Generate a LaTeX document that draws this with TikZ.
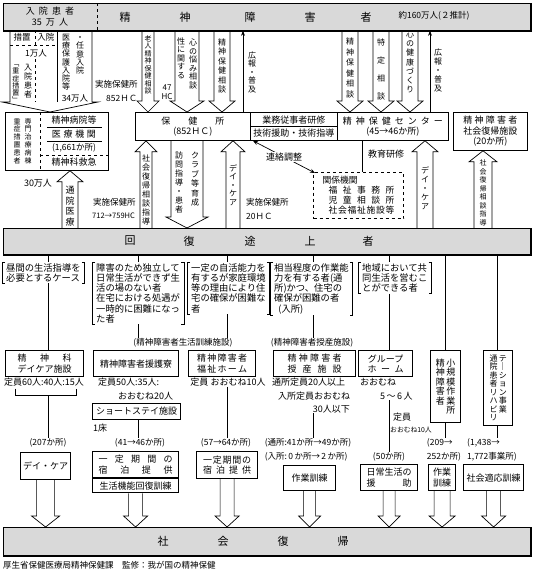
\documentclass[tikz,border=0pt]{standalone}
\usepackage{fontspec}
\setmainfont{Noto Sans CJK JP}
\usetikzlibrary{calc, arrows.meta, positioning}

\tikzstyle{bar} = [draw, line width=0.8pt, fill=black!15, inner sep=0pt, anchor=north west]
\tikzstyle{box} = [draw, line width=0.8pt, fill=white, align=center, inner sep=1.5pt, anchor=north west]
\tikzstyle{facility} = [draw, line width=1.4pt, fill=white, align=center, inner sep=1.5pt, anchor=north west]
\tikzstyle{txt} = [inner sep=0pt, align=center]
\tikzstyle{vtxt} = [inner sep=0pt, font=\fontsize{8}{9}\selectfont]
\tikzstyle{cond} = [inner xsep=4pt, inner ysep=1pt, align=left, anchor=north west, font=\fontsize{9.3}{10.3}\selectfont]
\tikzstyle{cnt} = [inner sep=0.5pt, align=left, font=\fontsize{8.5}{13.5}\selectfont]
\tikzstyle{hollow} = [draw, line width=0.7pt, line join=miter]
\tikzstyle{conn} = [line width=0.7pt]
\tikzstyle{arrow} = [conn, -{Stealth[length=5pt, width=4pt]}]

\makeatletter
\newdimen\vtpitch
\def\vt@#1{\ifx\@nil#1\else\hbox to 1em{\hss\vrule height \dimexpr .5\vtpitch+.38em\relax depth \dimexpr .5\vtpitch-.38em\relax width 0pt\relax\smash{#1}\hss}\expandafter\vt@\fi}
\newcommand\vt[2][10pt]{\vtpitch=#1\relax\vtop{\offinterlineskip\vt@#2\@nil}}
\def\spread@#1{#1\spread@@}
\def\spread@@#1{\ifx\@nil#1\else\hfill#1\expandafter\spread@@\fi}
\newcommand\spread[2]{\makebox[#1]{\spread@#2\@nil}}
\makeatother

% hollow block arrow: from, tip, half body width
\newcommand\hollowarrow[3]{%
  \draw[hollow] let \p1=#1, \p2=#2, \n1={ifthenelse(\y2>\y1,1,-1)} in
    (\x1-#3,\y1) -- (\x1-#3,\y2-\n1*11) -- (\x1-#3-5,\y2-\n1*11) -- (\x1,\y2)
    -- (\x1+#3+5,\y2-\n1*11) -- (\x1+#3,\y2-\n1*11) -- (\x1+#3,\y1);}

\begin{document}
\begin{tikzpicture}[x=1pt, y=-1pt, font=\fontsize{9}{10.5}\selectfont]
\useasboundingbox (0,0) rectangle (541,571);

% Bars
\node[bar, minimum width=527, minimum height=27] (topbar) at (3,3) {};
\draw[line width=1.6pt] (topbar.north east) -- (topbar.south east) -- (topbar.south west);
\node[bar, minimum width=527, minimum height=26] (kaifuku) at (3,228) {};
\draw[line width=1.6pt] (kaifuku.north east) -- (kaifuku.south east) -- (kaifuku.south west);
\node[bar, minimum width=527, minimum height=28] (fukki) at (3,527) {};
\draw[line width=1.6pt] (fukki.north east) -- (fukki.south east) -- (fukki.south west);

\draw[dashed] (97,3) -- (97,30);
\node[txt] (inpat) at (50,16.5) {入\ \ 院\ \ 患\ \ 者\\35\ \ 万\ \ 人};
\foreach \c/\xx [count=\i] in {精/125, 神/185, 障/250, 害/310, 者/366}
  \node[txt, font=\fontsize{11}{12}\selectfont] (sei\i) at (\xx,17) {\c};
\node[txt, font=\fontsize{8.5}{10}\selectfont] (total) at (434,16) {約160万人(２推計)};
\foreach \c/\xx [count=\i] in {回/130, 復/189, 途/250, 上/310, 者/368}
  \node[txt, font=\fontsize{11}{12}\selectfont] (kai\i) at (\xx,241) {\c};
\foreach \c/\xx [count=\i] in {社/163, 会/223, 復/283, 帰/343}
  \node[txt, font=\fontsize{11}{12}\selectfont] (sha\i) at (\xx,541) {\c};

% Column coordinates
\coordinate (c1) at (48,0);
\coordinate (c2) at (138,0);
\coordinate (c3) at (227,0);
\coordinate (c4) at (313,0);
\coordinate (c5) at (389,0);
\coordinate (c6) at (445,0);
\coordinate (c7) at (497,0);

% Inpatients
\draw[hollow] (10,30) -- (10,102) -- (2,102) -- (50,112) -- (98,102) -- (92,102) -- (92,30);
\draw (57,30) -- (57,102);
\draw[dashed] (35,30) -- (35,45) (10,45) -- (57,45) (35,59) -- (35,102);
\node[txt, font=\fontsize{8.5}{9}\selectfont] (sochi) at (22,37) {措置};
\node[txt, font=\fontsize{8.5}{9}\selectfont] (nyuin) at (46,37) {入院};
\node[txt, font=\fontsize{8.5}{9}\selectfont] (ichiman) at (36,53) {1万人};
\node[vtxt, font=\fontsize{7}{8}\selectfont] (jusho) at (16,82) {\vt[7.3pt]{﹁重症措置﹂}};
\node[vtxt] (nyukan) at (28,81) {\vt[9pt]{入院患者}};
\node[vtxt] (iryo) at (66,62) {\vt[8.3pt]{医療保護入院等}};
\node[vtxt] (nini) at (80,54) {\vt[8.3pt]{・任意入院}};
\node[txt, font=\fontsize{8.5}{9}\selectfont] (sanju) at (75,98) {34万人};
\node[txt, anchor=west, font=\fontsize{8.5}{9}\selectfont] (jisshi1) at (95,84) {実施保健所};
\node[txt, anchor=west, font=\fontsize{8.5}{9}\selectfont] (hc1) at (106,98) {852ＨＣ};

% Agencies
\node[box, minimum width=103, minimum height=58] (byoin) at (5,112) {};
\draw[dashed] (40,112) -- (40,170);
\node[vtxt, font=\fontsize{7}{8}\selectfont] (jusho2) at (17,141) {\vt[7.8pt]{重症措置患者}};
\node[vtxt, font=\fontsize{7}{8}\selectfont] (senmon) at (28,141) {\vt[7.8pt]{専門治療病棟}};
\node[txt] (byoin1) at (74,120) {精神病院等};
\draw (47,127) -- (102,127);
\node[txt] (byoin2) at (74,134) {\spread{44pt}{医療機関}};
\draw (47,141) -- (102,141);
\node[txt, font=\fontsize{8.5}{9}\selectfont] (byoin3) at (74,148) {(1,661か所)};
\draw[dashed] (40,155) -- (108,155);
\node[txt] (byoin4) at (74,162.5) {精神科救急};

\node[box, minimum width=115, minimum height=28] (hoken) at (135,112) {保\hspace{18pt}健\hspace{18pt}所\\(852ＨＣ)};
\node[box, minimum width=87, minimum height=28] (kenshu) at (250,112) {業務従事者研修\\[2.5pt]技術援助・技術指導};
\draw[conn] (kenshu.west) -- (kenshu.east);
\node[box, minimum width=111, minimum height=28] (seiho) at (337,112) {\spread{100pt}{精神保健センター}\\(45→46か所)};
\node[box, minimum width=74, minimum height=38] (shakai) at (453,112) {\spread{54pt}{精神障害者}\\社会復帰施設\\(20か所)};

% Arrows from the top bar
\node[vtxt, font=\fontsize{7}{8}\selectfont] (rojin) at (148,65) {\vt[7.5pt]{老人精神保健相談}};
\hollowarrow{(topbar.south -| rojin)}{(hoken.north -| rojin)}{6}
\node[txt, font=\fontsize{8}{9}\selectfont] (hc47) at (167,92) {47\\HC};
\node[vtxt] (seini) at (181,58) {\vt[8.5pt]{性に関する}};
\node[vtxt] (nayami) at (193,64) {\vt[8.5pt]{心の悩み相談}};
\coordinate (nayamiA) at (187,0);
\hollowarrow{(topbar.south -| nayamiA)}{(hoken.north -| nayamiA)}{12}
\node[vtxt] (soudan1) at (222,66) {\vt[9.5pt]{精神保健相談}};
\hollowarrow{(topbar.south -| soudan1)}{(hoken.north -| soudan1)}{8}
\coordinate (koho1A) at (243,0);
\draw[arrow] (hoken.north -| koho1A) -- (topbar.south -| koho1A);
\node[vtxt] (koho1) at (252,72) {\vt[8.5pt]{広報・普及}};

\node[vtxt] (soudan2) at (350,68) {\vt[10.5pt]{精神保健相談}};
\hollowarrow{(topbar.south -| soudan2)}{(seiho.north -| soudan2)}{8}
\node[vtxt] (tokutei) at (381,69) {\vt[18pt]{特定相談}};
\hollowarrow{(topbar.south -| tokutei)}{(seiho.north -| tokutei)}{8}
\node[vtxt] (zukuri) at (410,62) {\vt[9.3pt]{心の健康づくり}};
\hollowarrow{(topbar.south -| zukuri)}{(seiho.north -| zukuri)}{8}
\coordinate (koho2A) at (430,0);
\draw[arrow] (seiho.north -| koho2A) -- (topbar.south -| koho2A);
\node[vtxt] (koho2) at (438,70) {\vt[9pt]{広報・普及}};

% Arrows to the recovering
\node[vtxt, font=\fontsize{9}{10}\selectfont] (tsuin) at (70,206) {\vt[10.5pt]{通院医療}};
\hollowarrow{(kaifuku.north -| tsuin)}{(byoin.south -| tsuin)}{8}
\node[txt] (sanjuman) at (38,183) {30万人};
\node[txt, anchor=west, font=\fontsize{8.5}{9}\selectfont] (jisshi2) at (93,202) {実施保健所};
\node[txt, anchor=west, font=\fontsize{7.5}{9}\selectfont] (hc2) at (92,216) {712→759HC};
\node[vtxt] (fukki1) at (146,190) {\vt[9pt]{社会復帰相談指導}};
\hollowarrow{(kaifuku.north -| fukki1)}{(hoken.south -| fukki1)}{6}
\node[vtxt] (homon) at (179,182) {\vt[9pt]{訪問指導・患者}};
\node[vtxt] (club) at (195,179) {\vt[9.5pt]{クラブ等育成}};
\coordinate (homonA) at (187,0);
\hollowarrow{(hoken.south -| homonA)}{(kaifuku.north -| homonA)}{16}
\node[vtxt] (daycare1) at (233,185) {\vt[8.5pt]{デイ・ケア}};
\hollowarrow{(kaifuku.north -| daycare1)}{(hoken.south -| daycare1)}{7}
\node[txt, anchor=west, font=\fontsize{8.5}{9}\selectfont] (jisshi3) at (246,202) {実施保健所};
\node[txt, anchor=west, font=\fontsize{8.5}{9}\selectfont] (hc3) at (246,216) {20ＨＣ};

\node[box, dashed, line width=1.1pt, minimum width=90, minimum height=46, align=left, font=\fontsize{8.8}{10}\selectfont] (kankei) at (313,172)
  {関係機関\\\hspace*{6pt}\spread{66pt}{福祉事務所}\\\hspace*{6pt}\spread{66pt}{児童相談所}\\\hspace*{6pt}\spread{66pt}{社会福祉施設等}};
\draw[conn, {Stealth[length=5pt, width=4pt]}-{Stealth[length=5pt, width=4pt]}] ([xshift=3pt]kenshu.south west) -- node[fill=white, inner sep=1pt] (renraku) {連絡調整} ([xshift=2pt, yshift=-1pt]kankei.north west);
\coordinate (kyoikuA) at (362,0);
\draw[conn] (seiho.south -| kyoikuA) -- (kankei.north -| kyoikuA);
\node[txt, anchor=west] (kyoiku) at (368,154) {教育研修};
\node[vtxt] (daycare2) at (425,188) {\vt[9pt]{デイ・ケア}};
\hollowarrow{(kaifuku.north -| daycare2)}{(seiho.south -| daycare2)}{8}
\node[vtxt, font=\fontsize{7}{8}\selectfont] (fukki2) at (483,193) {\vt[8.5pt]{社会復帰相談指導}};
\hollowarrow{(kaifuku.north -| fukki2)}{(shakai.south -| fukki2)}{9}

% Conditions
\node[cond] (live1) at (2,262) {昼間の生活指導を\\必要とするケース};
\node[cond] (live2) at (92,262) {障害のため独立して\\日常生活ができず生\\活の場のない者\\在宅における処遇が\\一時的に困難になっ\\た者};
\node[cond] (live3) at (187,262) {一定の自活能力を\\有するが家庭環境\\等の理由により住\\宅の確保が困難な\\者};
\node[cond] (live4) at (270,262) {相当程度の作業能\\力を有する者(通\\所)かつ、住宅の\\確保が困難の者\\\ \ (入所)};
\node[cond] (live5) at (358,262) {地域において共\\同生活を営むこ\\とができる者};
\foreach \n in {live1, live2, live3, live4, live5}
  \draw[conn] ([xshift=3pt]\n.north west) -- (\n.north west) -- (\n.south west) -- ([xshift=3pt]\n.south west)
    ([xshift=-3pt]\n.north east) -- (\n.north east) -- (\n.south east) -- ([xshift=-3pt]\n.south east);
\draw[conn] (kaifuku.south -| c1) -- (live1.north -| c1);
\draw[conn] (kaifuku.south -| c2) -- (live2.north -| c2);
\draw[conn] (kaifuku.south -| c3) -- (live3.north -| c3);
\draw[conn] (kaifuku.south -| c4) -- (live4.north -| c4);
\draw[conn] (kaifuku.south -| c5) -- (live5.north -| c5);

% Facilities
\node[txt, font=\fontsize{8.5}{9}\selectfont] (seikatsu) at (183,343) {(精神障害者生活訓練施設)};
\node[txt, font=\fontsize{8.5}{9}\selectfont] (jusanL) at (312,343) {(精神障害者授産施設)};
\draw[conn] (live2.south -| c2) -- (seikatsu.north -| c2);
\draw[conn] (live3.south -| c3) -- (seikatsu.north -| c3);
\draw[conn] (live4.south -| c4) -- (jusanL.north -| c4);

\node[facility, minimum width=78, minimum height=26] (dcf) at (5,350) {\spread{54pt}{精神科}\\デイケア施設};
\node[facility, minimum width=85, minimum height=26] (engo) at (93,350) {精神障害者援護寮};
\node[facility, minimum width=67, minimum height=26] (fhome) at (188,350) {\spread{50pt}{精神障害者}\\\spread{50pt}{福祉ホーム}};
\node[facility, minimum width=82, minimum height=26] (jusan) at (273,350) {\spread{54pt}{精神障害者}\\\spread{54pt}{授産施設}};
\node[facility, minimum width=54, minimum height=26] (gh) at (358,350) {グループ\\\spread{36pt}{ホーム}};
\node[facility, minimum width=30, minimum height=72, inner sep=0pt] (sw) at (430,350) {\vt[9.5pt]{精神障害者}\,\vt[9.5pt]{小規模作業所}};
\node[facility, minimum width=29, minimum height=75, inner sep=0pt, font=\fontsize{8}{9}\selectfont] (rehab) at (483,350) {\vt[8.5pt]{通院患者リハビリ}\,\vt[8.5pt]{テ｜ション事業}};
\draw[conn] (live1.south -| c1) -- (dcf.north -| c1);
\draw[conn] (live5.south -| c5) -- (gh.north -| c5);
\draw[conn] (kaifuku.south -| c6) -- (sw.north -| c6);
\draw[conn] (kaifuku.south -| c7) -- (rehab.north -| c7);

% Capacities
\node[txt, anchor=north] (teiin1) at (44,378) {定員60人:40人:15人};
\coordinate (dcjoin) at ($(teiin1.south -| c1)+(0,9)$);
\draw[conn] ([xshift=12pt, yshift=-2pt]teiin1.south west) |- (dcjoin) -| ([xshift=-8pt, yshift=-2pt]teiin1.south east);
\node[txt, anchor=north west] (teiin2) at (98,378) {定員50人:35人:};
\node[txt, anchor=north west] (teiin2b) at (118,392) {おおむね20人};
\node[box, line width=1pt, minimum width=88, minimum height=16] (short) at (92,403) {ショートステイ施設};
\node[txt, anchor=north west] (bed) at (93,424) {1床};
\node[txt, anchor=north] (teiin3) at (228,378) {定員\ おおむね10人};
\node[txt, anchor=north west] (teiin4a) at (272,378) {通所定員20人以上};
\node[txt, anchor=north west] (teiin4b) at (278,392) {入所定員おおむね};
\node[txt, anchor=north east] (teiin4c) at (350,405) {30人以下};
\node[txt, anchor=north west] (teiin5a) at (360,378) {おおむね};
\node[txt, anchor=north west] (teiin5b) at (380,392) {5\,〜\,6\,人};
\node[txt, anchor=north west] (teiin6a) at (393,413) {定員};
\node[txt, anchor=north west, font=\fontsize{6.8}{8}\selectfont] (teiin6b) at (390,427) {おおむね10人};

% Numbers of places
\node[cnt] (kasho1) at (48,443) {(207か所)};
\node[cnt] (kasho2) at (140,443) {(41→46か所)};
\node[cnt] (kasho3) at (226,443) {(57→64か所)};
\node[cnt] (kasho4) at (308,450) {(通所:41か所→49か所)\\(入所:\,0\,か所→\,2\,か所)};
\node[cnt] (kasho5) at (389,457) {(50か所)};
\node[cnt] (kasho6) at (444,450) {(209→\\252か所)};
\node[cnt] (kasho7) at (492,450) {(1,438→\\1,772事業所)};
\draw[conn] (dcjoin) -- (kasho1.north -| c1);
\draw[conn] (short.south -| c2) -- (kasho2.north -| c2);
\draw[conn] (teiin3.south -| c3) -- (kasho3.north -| c3);
\draw[conn] (teiin4c.south -| c4) -- (kasho4.north -| c4);
\draw[conn] (teiin5b.south -| c5) -- (kasho5.north -| c5);
\draw[conn] (sw.south -| c6) -- (kasho6.north -| c6);
\draw[conn] (rehab.south -| c7) -- (kasho7.north -| c7);

% Services
\node[box, line width=1.2pt, minimum width=50, minimum height=27] (dc2) at (20,452) {デイ・ケア};
\node[box, line width=1.2pt, minimum width=86, minimum height=26] (shuku1) at (92,451) {\spread{74pt}{一定期間の}\\\spread{74pt}{宿泊提供}};
\node[box, line width=1.2pt, minimum width=86, minimum height=14, anchor=north] (kinou) at (shuku1.south) {生活機能回復訓練};
\node[box, line width=1.2pt, minimum width=61, minimum height=27] (shuku2) at (196,451) {\spread{48pt}{一定期間の}\\\spread{48pt}{宿泊提供}};
\node[box, line width=1.2pt, minimum width=52, minimum height=25] (sagyo1) at (283,465) {作業訓練};
\node[box, line width=1.2pt, minimum width=57, minimum height=26] (nichijo) at (360,464) {日常生活の\\\spread{45pt}{援助}};
\node[box, line width=1.2pt, minimum width=27, minimum height=26] (sagyo2) at (428,464) {作業\\訓練};
\node[box, line width=1.2pt, minimum width=60, minimum height=26] (tekio) at (463,464) {社会適応訓練};

\hollowarrow{(dc2.south)}{(fukki.north -| dc2)}{9}
\hollowarrow{(kinou.south)}{(fukki.north -| kinou)}{7}
\hollowarrow{(shuku2.south)}{(fukki.north -| shuku2)}{7}
\hollowarrow{(sagyo1.south)}{(fukki.north -| sagyo1)}{6}
\hollowarrow{(nichijo.south)}{(fukki.north -| nichijo)}{6}
\hollowarrow{(sagyo2.south)}{(fukki.north -| sagyo2)}{8}
\hollowarrow{(tekio.south)}{(fukki.north -| tekio)}{7}

\node[txt, anchor=west, font=\fontsize{8.5}{10}\selectfont] (source) at (3,565) {厚生省保健医療局精神保健課\quad 監修：我が国の精神保健};
\end{tikzpicture}
\end{document}
